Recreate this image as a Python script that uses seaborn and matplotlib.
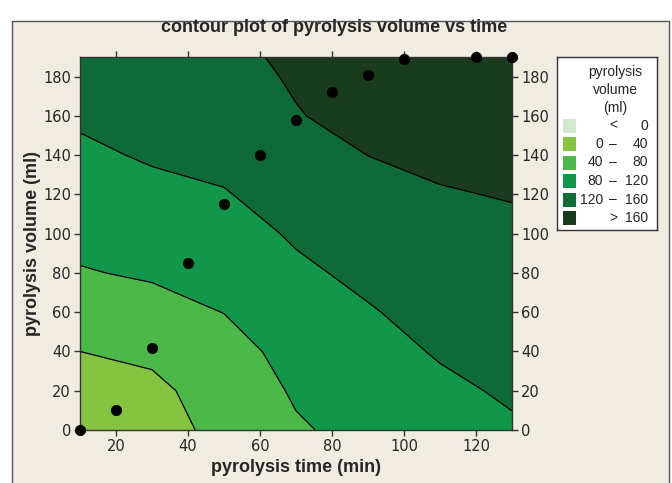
import numpy as np
import pandas as pd
import matplotlib
matplotlib.use("Agg")
import matplotlib.pyplot as plt
from matplotlib.patches import Rectangle
import seaborn as sns

# ---------------- data ----------------
time_pts = [10, 20, 30, 40, 50, 60, 70, 80, 90, 100, 120, 130]
volume_pts = [0, 10, 42, 85, 115, 140, 158, 172, 181, 189, 190, 190]

# estimated response surface (rows: volume, cols: time)
grid_time = [10, 30, 50, 70, 90, 110, 130]
grid_volume = [0, 20, 40, 60, 80, 100, 120, 140, 160, 180, 190]
z_v0 = [5, 25, 50, 76, 91, 104, 116]
z_v20 = [22.5, 32, 56, 84.2, 99.8, 113.5, 124.2]
z_v40 = [40, 46.9, 64, 94.1, 108.6, 122.8, 131.6]
z_v60 = [58.8, 66.7, 80.6, 104, 117.4, 131.6, 139.1]
z_v80 = [77.6, 84.3, 93.1, 113.8, 127.6, 140.4, 146.6]
z_v100 = [90.2, 97.5, 105.5, 124.1, 138.5, 149.2, 154]
z_v120 = [101.8, 110.7, 117.9, 134.9, 149.4, 158, 161.6]
z_v140 = [113.4, 123.8, 129.5, 145.7, 160.2, 165.9, 169.7]
z_v160 = [125, 136.3, 140.9, 158.5, 168.9, 173.5, 177.8]
z_v180 = [136.6, 148.8, 150, 163, 177.6, 181.2, 185.9]
z_v190 = [142, 155, 154, 164.5, 182, 185, 190]

levels = [-40, 0, 40, 80, 120, 160, 200]
level_colors = ["#d3e9cf", "#84c441", "#4cb848", "#12964a", "#0e6b38", "#183c1d"]
legend_left = ["", "0", "40", "80", "120", ""]
legend_mid = ["<", "\u2013", "\u2013", "\u2013", "\u2013", ">"]
legend_right = ["0", "40", "80", "120", "160", "160"]

x_ticks = [20, 40, 60, 80, 100, 120]
y_ticks = [0, 20, 40, 60, 80, 100, 120, 140, 160, 180]

# ---------------- style ----------------
sns.set_style("ticks")
plt.rcParams["font.family"] = ["DejaVu Sans"]
narrow = ["Liberation Sans Narrow", "Liberation Sans", "DejaVu Sans"]

W, H = 672, 483
fig = plt.figure(figsize=(W / 100, H / 100), dpi=100)
fig.patch.set_facecolor("white")

# beige panel with frame
fig.patches.append(Rectangle((12 / W, -0.02), 657 / W, 1 - 21 / H + 0.02,
                             transform=fig.transFigure, facecolor="#f1ece2",
                             edgecolor="#555555", linewidth=1.0, zorder=-10))

ax = fig.add_axes([80 / W, 1 - 430 / H, 432 / W, 373 / H])
ax.set_zorder(2)

Z = np.array([z_v0, z_v20, z_v40, z_v60, z_v80, z_v100, z_v120,
              z_v140, z_v160, z_v180, z_v190])
X, Y = np.meshgrid(grid_time, grid_volume)
ax.contourf(X, Y, Z, levels=levels, colors=level_colors, zorder=1)
ax.contour(X, Y, Z, levels=levels[2:-1], colors="black", linewidths=0.9, zorder=2)

df = pd.DataFrame({"time": time_pts, "volume": volume_pts})
sns.scatterplot(data=df, x="time", y="volume", ax=ax, color="black",
                edgecolor="black", s=55, zorder=5, clip_on=False, legend=False)

ax.set_xlim(10, 130)
ax.set_ylim(0, 190)
ax.set_xticks(x_ticks)
ax.set_yticks(y_ticks)
ax.tick_params(axis="both", direction="out", length=4.5, width=1,
               color="#333333", labelsize=10.5, top=True, right=True,
               labelright=True, labeltop=False, pad=2)
for sp in ax.spines.values():
    sp.set_linewidth(1.0)
    sp.set_color("#333333")
    sp.set_visible(True)

ax.set_xlabel("pyrolysis time (min)", family=narrow, fontweight="bold",
              fontsize=13, va="center")
ax.xaxis.set_label_coords(0.5, (430 - 468) / 373)
ax.set_ylabel("pyrolysis volume (ml)", family=narrow, fontweight="bold",
              fontsize=13, va="center", ha="center")
ax.yaxis.set_label_coords((33 - 80) / 432, (430 - 243) / 373)

fig.text(334 / W, 1 - 28 / H, "contour plot of pyrolysis volume vs time",
         family=narrow, fontweight="bold", fontsize=13, ha="center", va="center")

# ---------------- legend ----------------
lx, ly, lw, lh = 557, 57, 100, 173
lax = fig.add_axes([lx / W, 1 - (ly + lh) / H, lw / W, lh / H])
lax.set_zorder(2)
lax.set_xlim(0, lw)
lax.set_ylim(lh, 0)
lax.set_xticks([])
lax.set_yticks([])
lax.set_facecolor("white")
for sp in lax.spines.values():
    sp.set_linewidth(1.0)
    sp.set_color("#333333")
for i, line in enumerate(["pyrolysis", "volume", "(ml)"]):
    lax.text(58, 15 + 18 * i, line, family=narrow, fontsize=10,
             ha="center", va="center")
for i, col in enumerate(level_colors):
    yc = 68.5 + 18.5 * i
    lax.add_patch(Rectangle((6, yc - 7), 13, 14, facecolor=col, edgecolor="none"))
    if legend_left[i]:
        lax.text(46, yc, legend_left[i], family=narrow, fontsize=10,
                 ha="right", va="center")
    lax.text(56, yc, legend_mid[i], family=narrow, fontsize=10,
             ha="center", va="center")
    lax.text(91, yc, legend_right[i], family=narrow, fontsize=10,
             ha="right", va="center")

fig.savefig("out.png", dpi=100, facecolor=fig.get_facecolor())
